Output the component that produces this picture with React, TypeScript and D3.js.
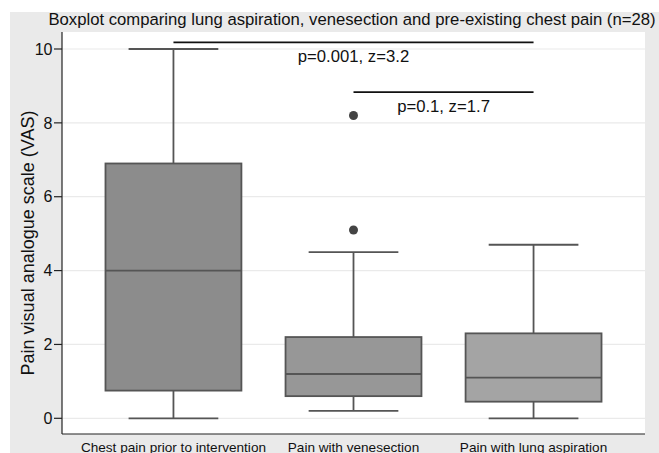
import React from "react";
import * as d3 from "d3";

const categories = [
  "Chest pain prior to intervention",
  "Pain with venesection",
  "Pain with lung aspiration",
];
const whiskerLow = [0, 0.2, 0];
const q1 = [0.75, 0.6, 0.45];
const median = [4.0, 1.2, 1.1];
const q3 = [6.9, 2.2, 2.3];
const whiskerHigh = [10, 4.5, 4.7];
const outliers = [[], [5.1, 8.2], []];
const boxFills = ["#8c8c8c", "#979797", "#a4a4a4"];
const yTicks = [0, 2, 4, 6, 8, 10];

// significance brackets
const compFrom = [0, 1];
const compTo = [2, 2];
const compLevel = [10.18, 8.83];
const compLabelLevel = [9.8, 8.47];
const compLabels = ["p=0.001, z=3.2", "p=0.1, z=1.7"];

const W = 659;
const H = 453;
const plot = { left: 62, right: 645, top: 32, bottom: 434 };
const font = "'Liberation Sans', Arial, Helvetica, sans-serif";
const stroke = "#555555";

export default function App() {
  const x = d3
    .scalePoint<string>()
    .domain(categories)
    .range([plot.left, plot.right])
    .padding(0.619);
  const y = d3.scaleLinear().domain([0, 10]).range([418.3, 49]);
  const step = x.step();
  const boxW = step * 0.755;
  const capW = boxW * 0.66;

  return (
    <svg
      width={W}
      height={H}
      style={{ position: "absolute", left: 0, top: 0, fontFamily: font }}
    >
      <rect x={0} y={0} width={W} height={H} fill="#ffffff" />
      <rect x={10} y={12} width={W - 10} height={H - 12} fill="#eaeaea" />
      <rect
        x={plot.left}
        y={plot.top}
        width={plot.right - plot.left}
        height={plot.bottom - plot.top}
        fill="#ffffff"
      />

      {/* title */}
      <text x={352} y={25} textAnchor="middle" fontSize={16.7} fill="#111">
        Boxplot comparing lung aspiration, venesection and pre-existing chest pain (n=28)
      </text>

      {/* grid */}
      {yTicks.map((t) => (
        <line
          key={"g" + t}
          x1={plot.left}
          x2={plot.right}
          y1={y(t)}
          y2={y(t)}
          stroke="#eaeaea"
          strokeWidth={1.2}
        />
      ))}

      {/* axes */}
      <line x1={plot.left} x2={plot.left} y1={plot.top} y2={plot.bottom} stroke="#222" strokeWidth={1.2} />
      <line x1={plot.left} x2={plot.right} y1={plot.bottom} y2={plot.bottom} stroke="#222" strokeWidth={1.2} />
      {yTicks.map((t) => (
        <g key={"t" + t}>
          <line x1={plot.left - 8} x2={plot.left} y1={y(t)} y2={y(t)} stroke="#222" strokeWidth={1.2} />
          <text x={plot.left - 9.5} y={y(t)} dy="0.36em" textAnchor="end" fontSize={16} fill="#111">
            {t}
          </text>
        </g>
      ))}
      <text
        transform={`translate(28,243) rotate(-90)`}
        textAnchor="middle"
        dy="0.36em"
        fontSize={18}
        fill="#111"
      >
        Pain visual analogue scale (VAS)
      </text>
      {categories.map((c) => (
        <text key={"x" + c} x={x(c)} y={451.5} textAnchor="middle" fontSize={13.6} fill="#111">
          {c}
        </text>
      ))}

      {/* boxes */}
      {categories.map((c, i) => {
        const cx = x(c) as number;
        return (
          <g key={"b" + c} stroke={stroke} strokeWidth={1.8}>
            <line x1={cx} x2={cx} y1={y(whiskerHigh[i])} y2={y(q3[i])} />
            <line x1={cx} x2={cx} y1={y(q1[i])} y2={y(whiskerLow[i])} />
            <line x1={cx - capW / 2} x2={cx + capW / 2} y1={y(whiskerHigh[i])} y2={y(whiskerHigh[i])} />
            <line x1={cx - capW / 2} x2={cx + capW / 2} y1={y(whiskerLow[i])} y2={y(whiskerLow[i])} />
            <rect
              x={cx - boxW / 2}
              y={y(q3[i])}
              width={boxW}
              height={y(q1[i]) - y(q3[i])}
              fill={boxFills[i]}
            />
            <line x1={cx - boxW / 2} x2={cx + boxW / 2} y1={y(median[i])} y2={y(median[i])} />
            {outliers[i].map((v) => (
              <circle key={v} cx={cx} cy={y(v)} r={4.5} fill="#444" stroke="none" />
            ))}
          </g>
        );
      })}

      {/* comparisons */}
      {compLabels.map((lab, i) => {
        const x1 = x(categories[compFrom[i]]) as number;
        const x2 = x(categories[compTo[i]]) as number;
        return (
          <g key={"c" + i}>
            <line x1={x1} x2={x2} y1={y(compLevel[i])} y2={y(compLevel[i])} stroke="#111" strokeWidth={1.8} />
            <text x={(x1 + x2) / 2} y={y(compLabelLevel[i])} dy="0.36em" textAnchor="middle" fontSize={16.7} fill="#111">
              {lab}
            </text>
          </g>
        );
      })}
    </svg>
  );
}
